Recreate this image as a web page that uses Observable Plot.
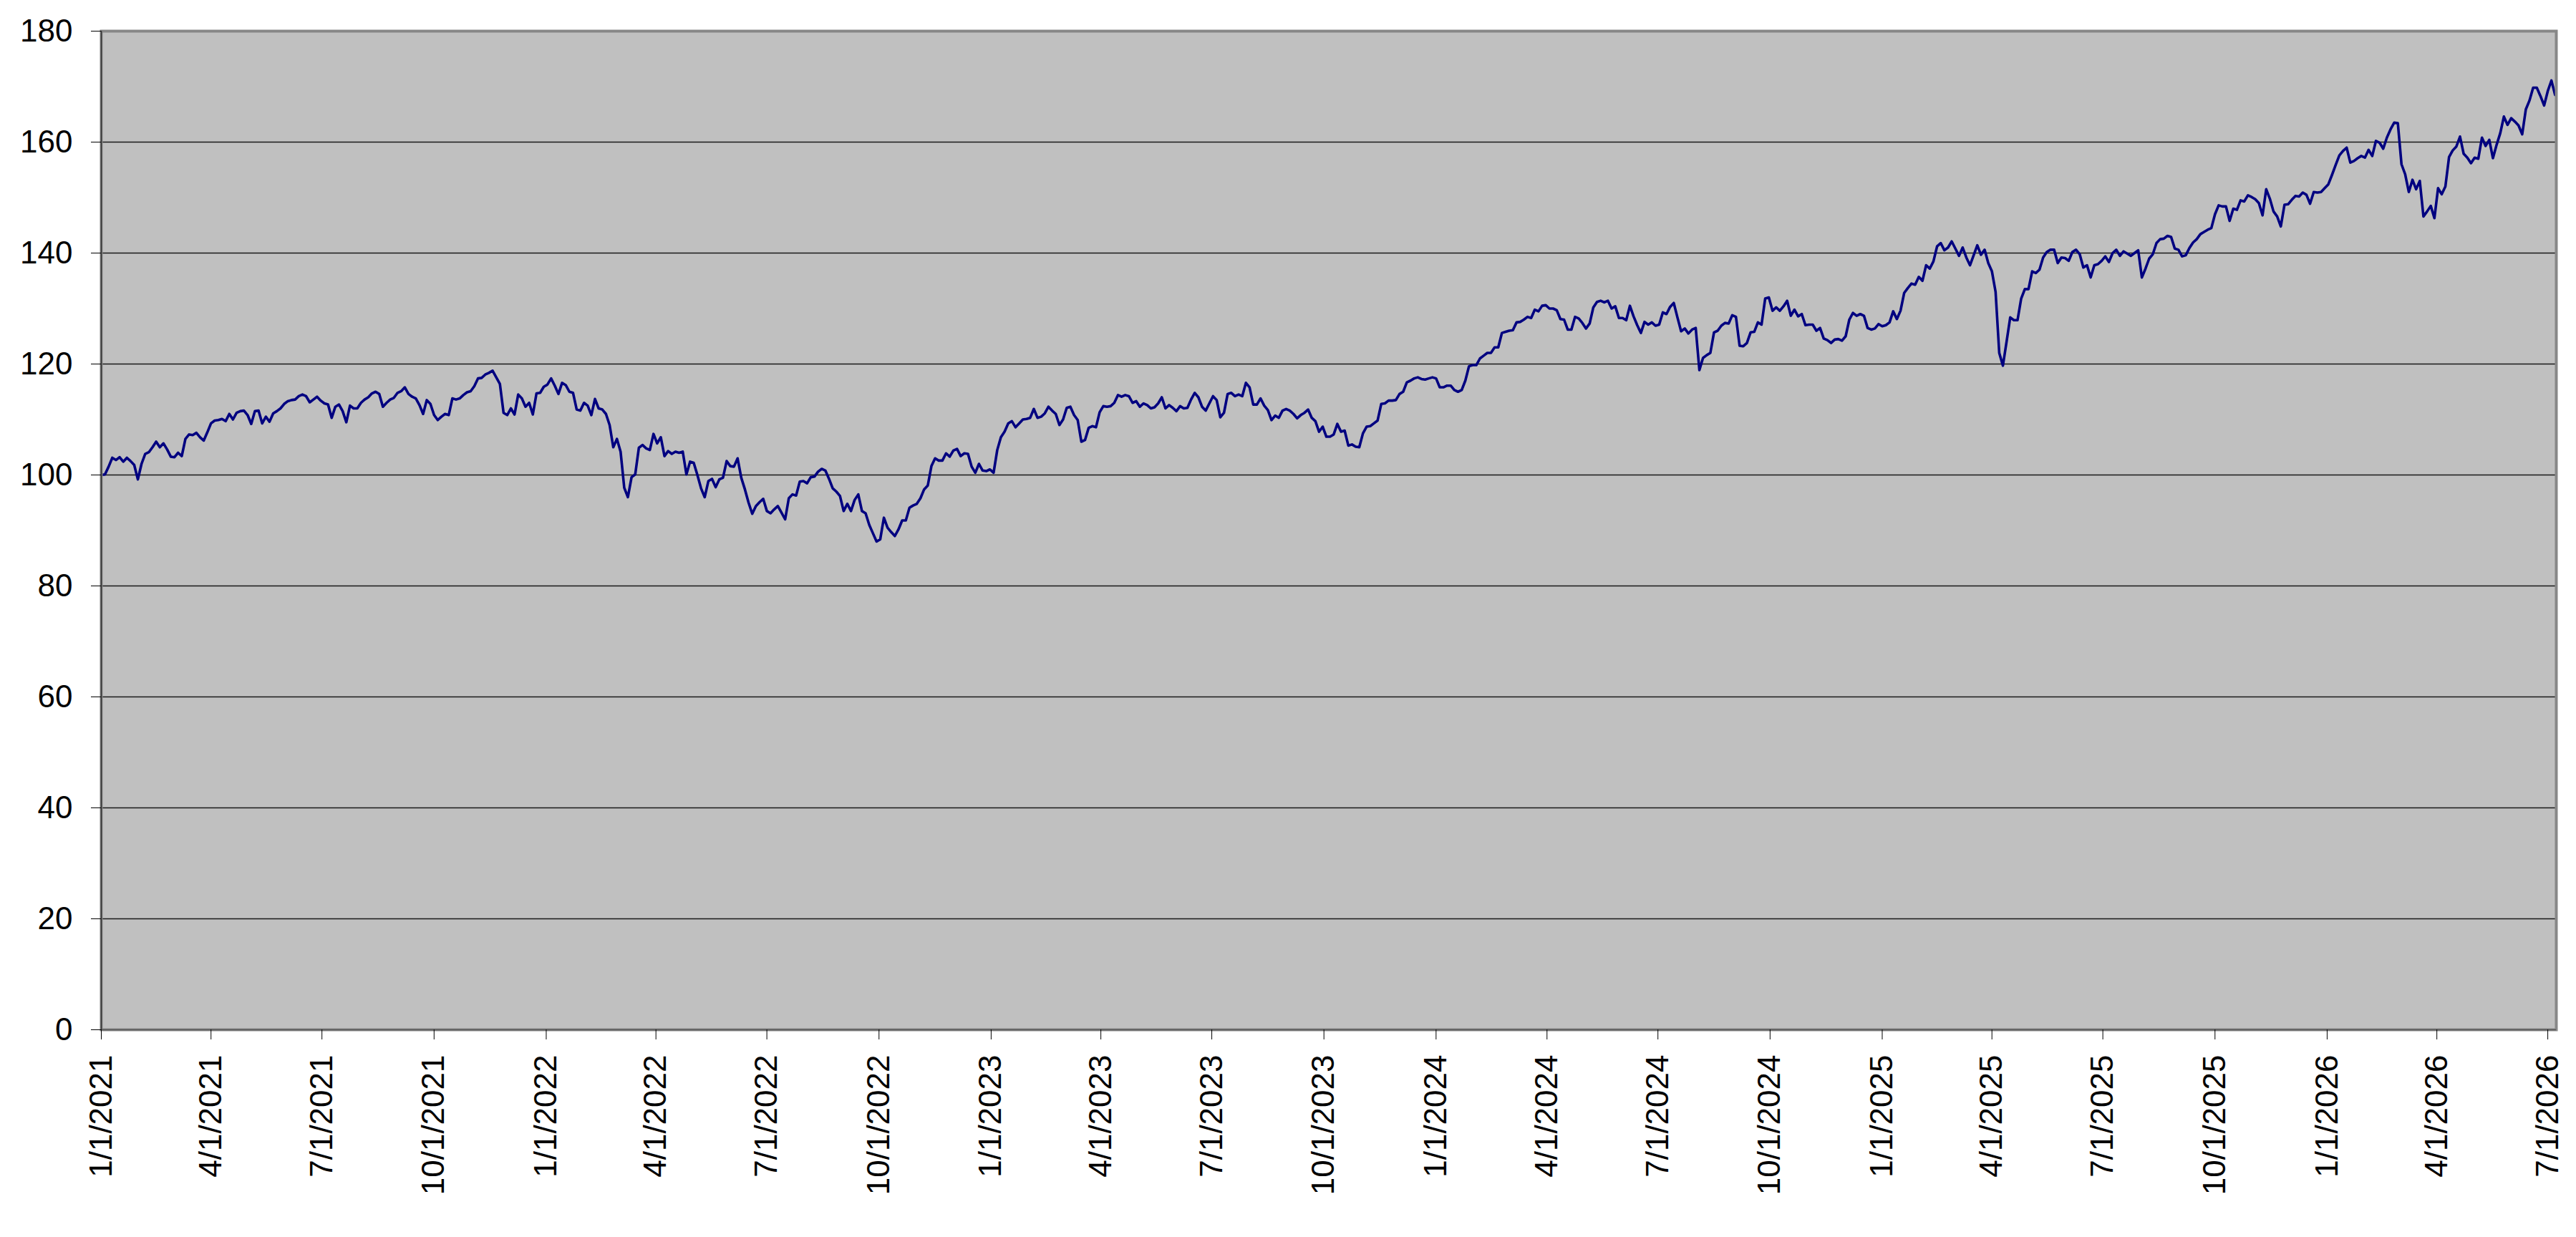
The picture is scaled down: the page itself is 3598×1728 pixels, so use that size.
<!DOCTYPE html>
<html>
<head>
<meta charset="utf-8">
<script src="https://cdn.jsdelivr.net/npm/d3@7"></script>
<script src="https://cdn.jsdelivr.net/npm/@observablehq/plot@0.6"></script>
<style>
html, body { margin: 0; padding: 0; background: #ffffff; }
#chart { width: 3598px; height: 1728px; }
</style>
</head>
<body>
<div id="chart"></div>
<script>
// Series: one reading every 3 days starting 1/1/2021
const startDate = "2021-01-01";
const stepDays = 3;
const values = [
  100, 100.1, 101.5, 103.1, 102.7, 103.2, 102.4, 103.1, 102.5, 101.8,
  99.2, 102, 103.8, 104.1, 105, 106, 105, 105.7, 104.6, 103.3,
  103.2, 104, 103.4, 106.5, 107.3, 107.2, 107.6, 106.8, 106.2, 107.7,
  109.3, 109.8, 109.9, 110.1, 109.7, 111, 110, 111.2, 111.5, 111.6,
  110.8, 109.2, 111.5, 111.6, 109.3, 110.5, 109.6, 111.1, 111.5, 112,
  112.8, 113.3, 113.5, 113.6, 114.2, 114.5, 114.2, 113.1, 113.6, 114.1,
  113.4, 112.9, 112.7, 110.3, 112.3, 112.7, 111.5, 109.5, 112.5, 112,
  112, 113, 113.6, 114, 114.7, 115, 114.6, 112.3, 113, 113.6,
  113.9, 114.8, 115.1, 115.8, 114.6, 114.1, 113.8, 112.6, 111, 113.5,
  112.8, 110.8, 109.9, 110.5, 111, 110.8, 113.8, 113.6,
  113.8, 114.4, 114.9, 115.1, 116, 117.4, 117.5, 118.1, 118.4, 118.8,
  117.6, 116.4, 111.2, 110.8, 112, 110.9, 114.5, 113.8, 112.3, 113,
  110.9, 114.7, 114.8, 115.9, 116.3, 117.4, 116.1, 114.6, 116.6, 116.2,
  115, 114.8, 111.8, 111.6, 113, 112.5, 110.8, 113.7, 112, 111.8,
  111, 109, 105, 106.5, 104.2, 97.7, 96, 99.6, 100.1, 104.9,
  105.4, 104.8, 104.5, 107.4, 105.7, 106.8, 103.4, 104.3, 103.8, 104.2,
  104, 104.2, 100.1, 102.4, 102.2, 100, 97.6, 96, 98.9, 99.3,
  97.8, 99.2, 99.5, 102.5, 101.6, 101.5, 103, 99.5, 97.4, 95,
  93, 94.4, 95.1, 95.7, 93.5, 93.1, 93.8, 94.4, 93.2, 92,
  95.8, 96.5, 96.3, 98.8, 98.9, 98.5,
  99.6, 99.7, 100.6, 101.1, 100.8, 99.3, 97.6, 97, 96.2, 93.5,
  94.8, 93.5, 95.5, 96.5, 93.5, 93.1, 91, 89.5, 88, 88.4,
  92.3, 90.5, 89.7, 89, 90.2, 91.8, 91.8, 94.1, 94.5, 94.8,
  95.8, 97.4, 98.1, 101.6, 103, 102.6, 102.6, 103.9, 103.3, 104.4,
  104.7, 103.4, 103.9, 103.8, 101.5, 100.4, 102, 100.8, 100.7, 101,
  100.4, 104.5, 106.8, 107.8, 109.3, 109.7, 108.6, 109.3, 110, 110.1,
  110.3, 111.9, 110.3, 110.5, 111.1, 112.3, 111.6, 111, 109, 110,
  112.1, 112.3, 110.8, 109.9, 106, 106.3, 108.5, 108.8, 108.6, 111.3,
  112.4, 112.3, 112.4, 113, 114.4, 114.1, 114.4, 114.2, 113, 113.3,
  112.3, 112.9, 112.6, 112, 112.2, 112.9,
  114, 112, 112.6, 112.1, 111.5, 112.4, 112, 112.1, 113.6, 114.8,
  114, 112.3, 111.6, 112.9, 114.2, 113.5, 110.4, 111.2, 114.6, 114.8,
  114.2, 114.5, 114.2, 116.6, 115.8, 112.7, 112.7, 113.8, 112.5, 111.7,
  109.9, 110.7, 110.3, 111.6, 111.9, 111.6, 111, 110.2, 110.8, 111.2,
  111.8, 110.3, 109.7, 107.8, 108.7, 106.9, 106.9, 107.3, 109.2, 107.8,
  108, 105.3, 105.5, 105.1, 105, 107.5, 108.7, 108.8, 109.3, 109.8,
  112.8, 112.9, 113.4, 113.4, 113.5, 114.6, 115, 116.7, 117, 117.4,
  117.6, 117.3, 117.2, 117.4, 117.6, 117.4, 115.8, 115.8, 116.1, 116.1,
  115.3, 115, 115.3, 117, 119.6, 119.8, 119.8, 121, 121.5, 122,
  122, 123, 123, 125.6, 125.8, 126,
  126.1, 127.5, 127.6, 128, 128.5, 128.3, 129.8, 129.5, 130.5, 130.6,
  130, 130, 129.7, 128.1, 128, 126.2, 126.2, 128.5, 128.2, 127.4,
  126.4, 127.3, 130.2, 131.2, 131.4, 131.1, 131.4, 130, 130.4, 128.3,
  128.3, 127.9, 130.5, 128.6, 127, 125.6, 127.6, 127.1, 127.5, 126.9,
  127.1, 129.3, 129, 130.3, 131, 128.4, 125.9, 126.4, 125.5, 126.2,
  126.5, 118.9, 121.1, 121.6, 122, 125.7, 126, 126.9, 127.4, 127.3,
  128.8, 128.5, 123.3, 123.2, 123.8, 125.7, 125.8, 127.5, 127.1, 131.8,
  132, 129.6, 130.2, 129.6, 130.4, 131.4, 128.7, 129.8, 128.6, 129,
  127, 127.1, 127.1, 126, 126.5, 124.6, 124.3, 123.8, 124.4, 124.5,
  124.2, 125, 128, 129.2, 128.7, 129,
  128.7, 126.5, 126.2, 126.4, 127.2, 126.8, 127, 127.5, 129.5, 128.1,
  129.6, 132.8, 133.7, 134.5, 134.3, 135.7, 135, 137.8, 137.2, 138.5,
  141.2, 141.8, 140.5, 141, 142.1, 140.8, 139.5, 141, 139.2, 137.8,
  139.6, 141.4, 139.7, 140.6, 138.2, 136.7, 133, 122, 119.7, 124,
  128.4, 127.9, 127.9, 131.8, 133.5, 133.5, 136.7, 136.4, 137, 139.2,
  140.2, 140.6, 140.6, 138.2, 139.2, 139.1, 138.6, 140.2, 140.6, 139.8,
  137.4, 137.8, 135.6, 137.8, 138, 138.6, 139.4, 138.4, 140, 140.6,
  139.5, 140.3, 139.9, 139.5, 140, 140.5, 135.6, 137.2, 139, 139.8,
  141.8, 142.5, 142.6, 143.1, 142.9, 140.8, 140.6, 139.4, 139.6, 140.9,
  141.9, 142.5, 143.4, 143.8, 144.2, 144.5,
  147, 148.6, 148.4, 148.4, 145.8, 148, 147.8, 149.5, 149.3, 150.4,
  150.1, 149.7, 149, 146.8, 151.5, 149.8, 147.5, 146.6, 144.8, 148.7,
  148.8, 149.6, 150.3, 150.2, 150.9, 150.5, 148.9, 151, 150.9, 151,
  151.7, 152.4, 154.1, 155.9, 157.6, 158.4, 159, 156.3, 156.6, 157.1,
  157.5, 157.2, 158.6, 157.5, 160.2, 159.9, 158.8, 160.8, 162.3, 163.5,
  163.4, 156, 154.2, 151, 153.2, 151.5, 153, 146.6, 147.5, 148.5,
  146.3, 151.7, 150.6, 152, 157.3, 158.5, 159.2, 161, 157.9, 157.2,
  156.2, 157.2, 157, 160.8, 159.3, 160.4, 157.1, 159.5, 161.6, 164.6,
  163.1, 164.3, 163.7, 163, 161.4, 165.9, 167.5, 169.8, 169.8, 168.3,
  166.6, 169.2, 171.1, 168.5
];

// Axis ticks
const xTickDates = [
  "2021-01-01", "2021-04-01", "2021-07-01", "2021-10-01",
  "2022-01-01", "2022-04-01", "2022-07-01", "2022-10-01",
  "2023-01-01", "2023-04-01", "2023-07-01", "2023-10-01",
  "2024-01-01", "2024-04-01", "2024-07-01", "2024-10-01",
  "2025-01-01", "2025-04-01", "2025-07-01", "2025-10-01",
  "2026-01-01", "2026-04-01", "2026-07-01"
];
const yTickValues = [0, 20, 40, 60, 80, 100, 120, 140, 160, 180];
const gridValues = [20, 40, 60, 80, 100, 120, 140, 160];
const xDomain = ["2021-01-01", "2026-07-08"];
const yDomain = [0, 180];

const parse = (s) => new Date(s + "T00:00:00Z");
const start = parse(startDate);
const data = values.map((v, i) => ({ date: d3.utcDay.offset(start, i * stepDays), value: v }));
const fmt = d3.utcFormat("%-m/%-d/%Y");

const chart = Plot.plot({
  width: 3598,
  height: 1728,
  marginTop: 43,
  marginRight: 28,
  marginBottom: 290,
  marginLeft: 141,
  style: {
    fontFamily: "'Liberation Sans', Arial, sans-serif",
    fontSize: "44px",
    background: "#ffffff",
    color: "#000000",
    overflow: "visible"
  },
  x: { type: "utc", domain: xDomain.map(parse), label: null },
  y: { domain: yDomain, label: null },
  marks: [
    Plot.frame({ fill: "#c0c0c0", stroke: "none" }),
    Plot.ruleY(gridValues, { stroke: "#1a1a1a", strokeWidth: 1.5 }),
    Plot.line(data, { x: "date", y: "value", stroke: "#000080", strokeWidth: 3.6, strokeLinejoin: "round" }),
    Plot.frame({ stroke: "#878787", strokeWidth: 4 }),
    Plot.ruleX([parse(xDomain[0])], { stroke: "#333333", strokeWidth: 1.6 }),
    Plot.ruleY([0], { stroke: "#555555", strokeWidth: 1.6 }),
    Plot.axisY({ ticks: yTickValues, tickSize: 14, tickPadding: 26, fontSize: 44, label: null }),
    Plot.axisX({ ticks: xTickDates.map(parse), tickFormat: fmt, tickRotate: -90, tickSize: 14, tickPadding: 21, fontSize: 44, label: null })
  ]
});

document.getElementById("chart").appendChild(chart);
</script>
</body>
</html>
